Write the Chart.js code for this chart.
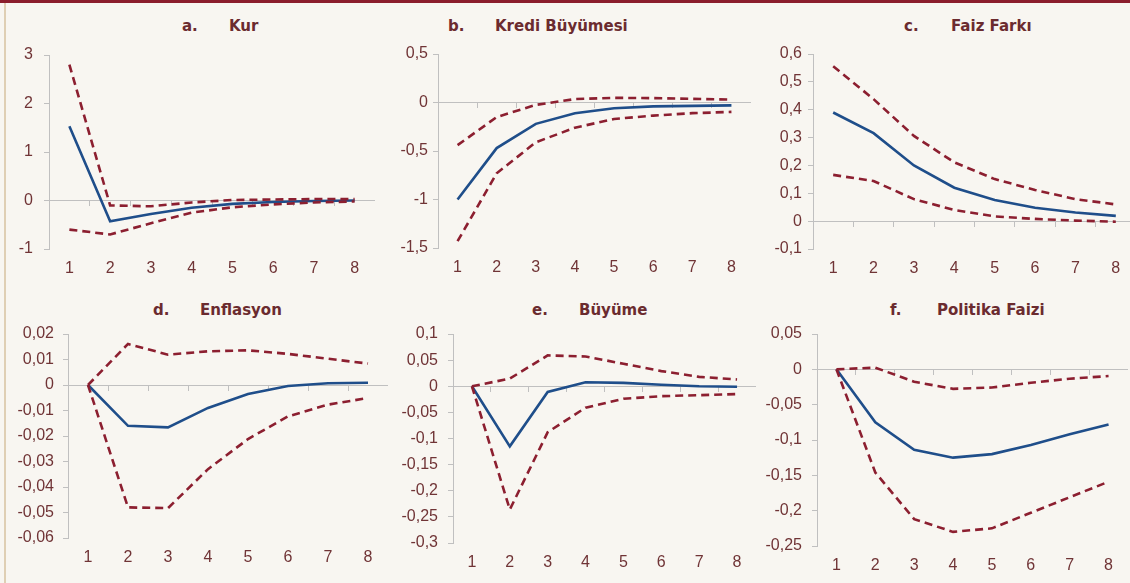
<!DOCTYPE html>
<html>
<head>
<meta charset="utf-8">
<script src="https://cdn.jsdelivr.net/npm/chart.js@4.4.0/dist/chart.umd.min.js"></script>
<style>
  body { margin:0; width:1130px; height:583px; overflow:hidden; background:#f8f6f1; position:relative; }
  #topbar { position:absolute; left:0; top:0; width:1130px; height:3px; background:#8b1e2d; }
  #leftbar { position:absolute; left:4px; top:3px; width:2px; height:580px; background:#dfcfb4; }
  .box { position:absolute; }
  .ttl { position:absolute; font:bold 15px 'DejaVu Sans', sans-serif; line-height:18px; color:#6b2b2f; white-space:nowrap; }
  .ttl span { display:inline-block; width:47px; }
</style>
</head>
<body>
<div id="topbar"></div>
<div id="leftbar"></div>
<script>
//---------------- data ----------------
const categories = ['1', '2', '3', '4', '5', '6', '7', '8'];

// a. Kur
const kurMid = [1.53, -0.43, -0.28, -0.15, -0.07, -0.03, -0.01, 0];
const kurUp = [2.8, -0.1, -0.12, -0.04, 0.01, 0.02, 0.03, 0.03];
const kurLow = [-0.6, -0.7, -0.47, -0.25, -0.14, -0.08, -0.04, -0.02];
const kurTicks = [-1, 0, 1, 2, 3];

// b. Kredi Büyümesi
const krediMid = [-1.0, -0.47, -0.22, -0.11, -0.06, -0.04, -0.035, -0.03];
const krediUp = [-0.44, -0.15, -0.025, 0.035, 0.048, 0.045, 0.038, 0.03];
const krediLow = [-1.43, -0.73, -0.41, -0.26, -0.17, -0.135, -0.11, -0.097];
const krediTicks = [-1.5, -1, -0.5, 0, 0.5];

// c. Faiz Farkı
const faizMid = [0.39, 0.316, 0.2, 0.12, 0.076, 0.048, 0.031, 0.019];
const faizUp = [0.556, 0.438, 0.306, 0.211, 0.151, 0.112, 0.079, 0.06];
const faizLow = [0.166, 0.144, 0.079, 0.04, 0.017, 0.008, 0.002, -0.002];
const faizTicks = [-0.1, 0, 0.1, 0.2, 0.3, 0.4, 0.5, 0.6];

// d. Enflasyon
const enfMid = [0, -0.016, -0.0166, -0.009, -0.0035, -0.0004, 0.0007, 0.0009];
const enfUp = [0, 0.0161, 0.0119, 0.0132, 0.0136, 0.0122, 0.0103, 0.0084];
const enfLow = [0, -0.048, -0.0483, -0.033, -0.0212, -0.0123, -0.0077, -0.0051];
const enfTicks = [-0.06, -0.05, -0.04, -0.03, -0.02, -0.01, 0, 0.01, 0.02];

// e. Büyüme
const buyMid = [0, -0.115, -0.011, 0.0076, 0.0064, 0.003, 0, -0.001];
const buyUp = [0, 0.0146, 0.059, 0.057, 0.043, 0.029, 0.018, 0.013];
const buyLow = [0, -0.236, -0.088, -0.041, -0.024, -0.019, -0.017, -0.015];
const buyTicks = [-0.3, -0.25, -0.2, -0.15, -0.1, -0.05, 0, 0.05, 0.1];

// f. Politika Faizi
const polMid = [0, -0.075, -0.114, -0.125, -0.12, -0.107, -0.092, -0.078];
const polUp = [0, 0.0024, -0.0176, -0.0276, -0.0257, -0.019, -0.0133, -0.0095];
const polLow = [0, -0.146, -0.212, -0.23, -0.225, -0.203, -0.181, -0.159];
const polTicks = [-0.25, -0.2, -0.15, -0.1, -0.05, 0, 0.05];

//---------------- styles ----------------
const blue = '#1f4e8a';
const red = '#8c1f30';
const gray = '#c0c0c0';
const tickColor = '#703436';
const tickFont = { family: "'Liberation Sans', Arial, sans-serif", size: 16 };

// area = chart area in page pixels, box = top-left of the canvas, pad = y label padding
const panels = [
    { letter: 'a.', name: 'Kur', mid: kurMid, up: kurUp, low: kurLow, ticks: kurTicks,
      box: { l: 6, t: 0 }, area: { l: 49, t: 55, r: 375, b: 249 }, pad: 11, tx: 182, ty: 17 },
    { letter: 'b.', name: 'Kredi Büyümesi', mid: krediMid, up: krediUp, low: krediLow, ticks: krediTicks,
      box: { l: 390, t: 0 }, area: { l: 438, t: 54, r: 751, b: 248 }, pad: 5, tx: 448, ty: 17 },
    { letter: 'c.', name: 'Faiz Farkı', mid: faizMid, up: faizUp, low: faizLow, ticks: faizTicks,
      box: { l: 760, t: 0 }, area: { l: 813, t: 54, r: 1136, b: 249 }, pad: 6, tx: 904, ty: 17 },
    { letter: 'd.', name: 'Enflasyon', mid: enfMid, up: enfUp, low: enfLow, ticks: enfTicks,
      box: { l: 6, t: 290 }, area: { l: 68, t: 334, r: 388, b: 538 }, pad: 9, tx: 153, ty: 301 },
    { letter: 'e.', name: 'Büyüme', mid: buyMid, up: buyUp, low: buyLow, ticks: buyTicks,
      box: { l: 390, t: 290 }, area: { l: 453, t: 334, r: 756, b: 543 }, pad: 10, tx: 532, ty: 301 },
    { letter: 'f.', name: 'Politika Faizi', mid: polMid, up: polUp, low: polLow, ticks: polTicks,
      box: { l: 760, t: 290 }, area: { l: 817, t: 334, r: 1128, b: 546 }, pad: 10, tx: 890, ty: 301 },
];

const fmt = v => (Math.round(v * 1000) / 1000).toString().replace('.', ',');

panels.forEach(p => {
    const ttl = document.createElement('div');
    ttl.className = 'ttl';
    ttl.style.left = p.tx + 'px';
    ttl.style.top = p.ty + 'px';
    ttl.innerHTML = '<span>' + p.letter + '</span>' + p.name;
    document.body.appendChild(ttl);

    const div = document.createElement('div');
    div.className = 'box';
    div.style.left = p.box.l + 'px';
    div.style.top = p.box.t + 'px';
    div.style.width = (p.area.r - p.box.l) + 'px';
    div.style.height = (p.area.b + 30 - p.box.t) + 'px';
    const canvas = document.createElement('canvas');
    div.appendChild(canvas);
    document.body.appendChild(div);

    const t = p.ticks;
    new Chart(canvas, {
        type: 'line',
        data: {
            labels: categories,
            datasets: [
                { data: p.up, borderColor: red, borderWidth: 2.6, borderDash: [8, 5], pointRadius: 0, tension: 0 },
                { data: p.low, borderColor: red, borderWidth: 2.6, borderDash: [8, 5], pointRadius: 0, tension: 0 },
                { data: p.mid, borderColor: blue, borderWidth: 2.6, pointRadius: 0, tension: 0 },
            ]
        },
        options: {
            animation: false,
            responsive: true,
            maintainAspectRatio: false,
            devicePixelRatio: 1,
            layout: { padding: { top: p.area.t - p.box.t, right: 0, bottom: 0, left: 0 } },
            plugins: {
                legend: { display: false },
                tooltip: { enabled: false },
            },
            scales: {
                x: {
                    type: 'category',
                    offset: true,
                    border: { display: false },
                    grid: { display: false, drawTicks: false },
                    ticks: { color: tickColor, font: tickFont, padding: 10, maxRotation: 0, autoSkip: false },
                    afterFit: s => { s.height = 30; },
                },
                x0: {
                    type: 'category',
                    offset: true,
                    position: { y: 0 },
                    border: { display: true, color: gray, width: 1 },
                    grid: { display: true, offset: true, drawOnChartArea: false, drawTicks: true, tickLength: 5, color: gray },
                    ticks: { display: false },
                },
                y: {
                    min: t[0],
                    max: t[t.length - 1],
                    border: { display: true, color: gray, width: 1 },
                    grid: { drawOnChartArea: false, drawTicks: true, tickLength: 5, color: gray },
                    ticks: { stepSize: t[1] - t[0], callback: fmt, color: tickColor, font: tickFont, padding: p.pad, autoSkip: false },
                    afterFit: s => { s.width = p.area.l - p.box.l; },
                },
            },
        },
    });
});
</script>
</body>
</html>
